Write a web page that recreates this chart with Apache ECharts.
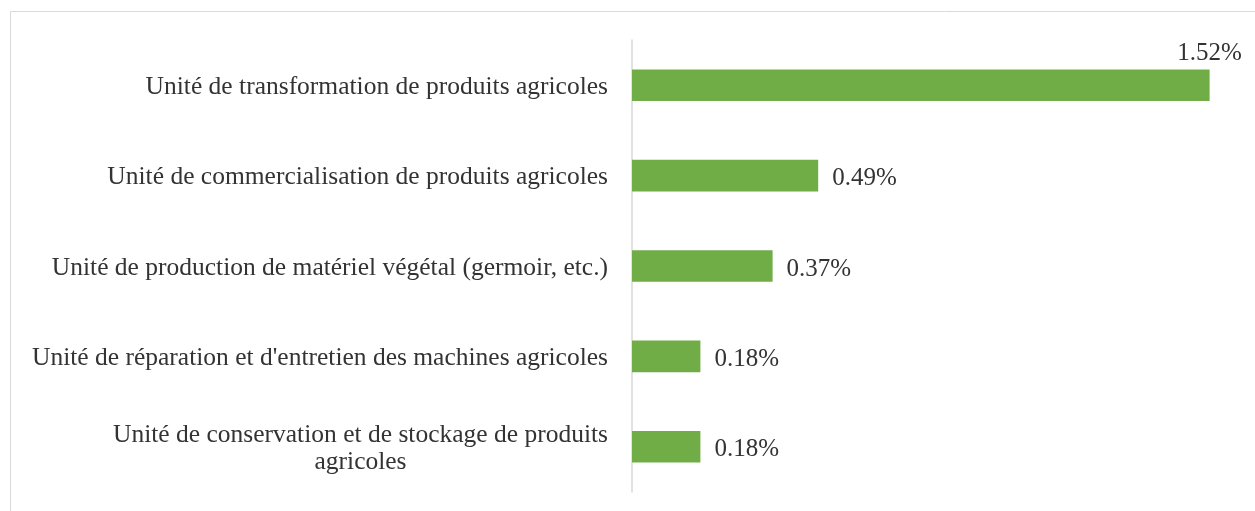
<!DOCTYPE html>
<html>
<head>
<meta charset="utf-8">
<script src="https://cdn.jsdelivr.net/npm/echarts@6/dist/echarts.min.js"></script>
<style>
  html, body { margin: 0; padding: 0; background: #fff; }
  #chart { width: 1255px; height: 511px; }
</style>
</head>
<body>
<div id="chart"></div>
<script>
// categories bottom -> top (yAxis category goes upward)
const categories = [
  "Unité de conservation et de stockage de produits\nagricoles",
  "Unité de réparation et d'entretien des machines agricoles",
  "Unité de production de matériel végétal (germoir, etc.)",
  "Unité de commercialisation de produits agricoles",
  "Unité de transformation de produits agricoles"
]
const values = [0.18, 0.18, 0.37, 0.49, 1.52]

const font = "'Liberation Serif', 'DejaVu Serif', serif"
const textColor = '#333333'

const chart = echarts.init(document.getElementById('chart'))

chart.setOption({
  animation: false,
  graphic: [{
    type: 'rect',
    shape: { x: 10.5, y: 11.5, width: 1300, height: 600 },
    style: { fill: 'none', stroke: '#d9d9d9', lineWidth: 1 }
  }],
  grid: {
    left: 632,
    right: 15,
    top: 40,
    bottom: 19
  },
  xAxis: {
    type: 'value',
    min: 0,
    max: 1.6,
    show: false
  },
  yAxis: {
    type: 'category',
    data: categories,
    axisLine: { lineStyle: { color: '#d9d9d9', width: 1.5 } },
    axisTick: { show: false },
    axisLabel: {
      margin: 24,
      fontFamily: font,
      fontSize: 25.5,
      color: textColor,
      lineHeight: 27,
      padding: [4, 0, 0, 0],
      formatter: v => v.split('\n').map(s => '{c|' + s + '}').join('\n'),
      rich: {
        c: { align: 'center', fontFamily: font, fontSize: 25.5, color: textColor, lineHeight: 27 }
      }
    }
  },
  series: [{
    type: 'bar',
    barCategoryGap: '65%',
    itemStyle: { color: '#70ad47' },
    label: {
      show: true,
      position: 'right',
      distance: 14,
      offset: [0, 3],
      fontFamily: font,
      fontSize: 25,
      color: textColor,
      formatter: p => p.value.toFixed(2) + '%'
    },
    data: values.map(v => v === 1.52 ? {
      value: v,
      label: { position: ['100%', 0], align: 'center', verticalAlign: 'bottom', offset: [0, -3] }
    } : v)
  }]
})
</script>
</body>
</html>
